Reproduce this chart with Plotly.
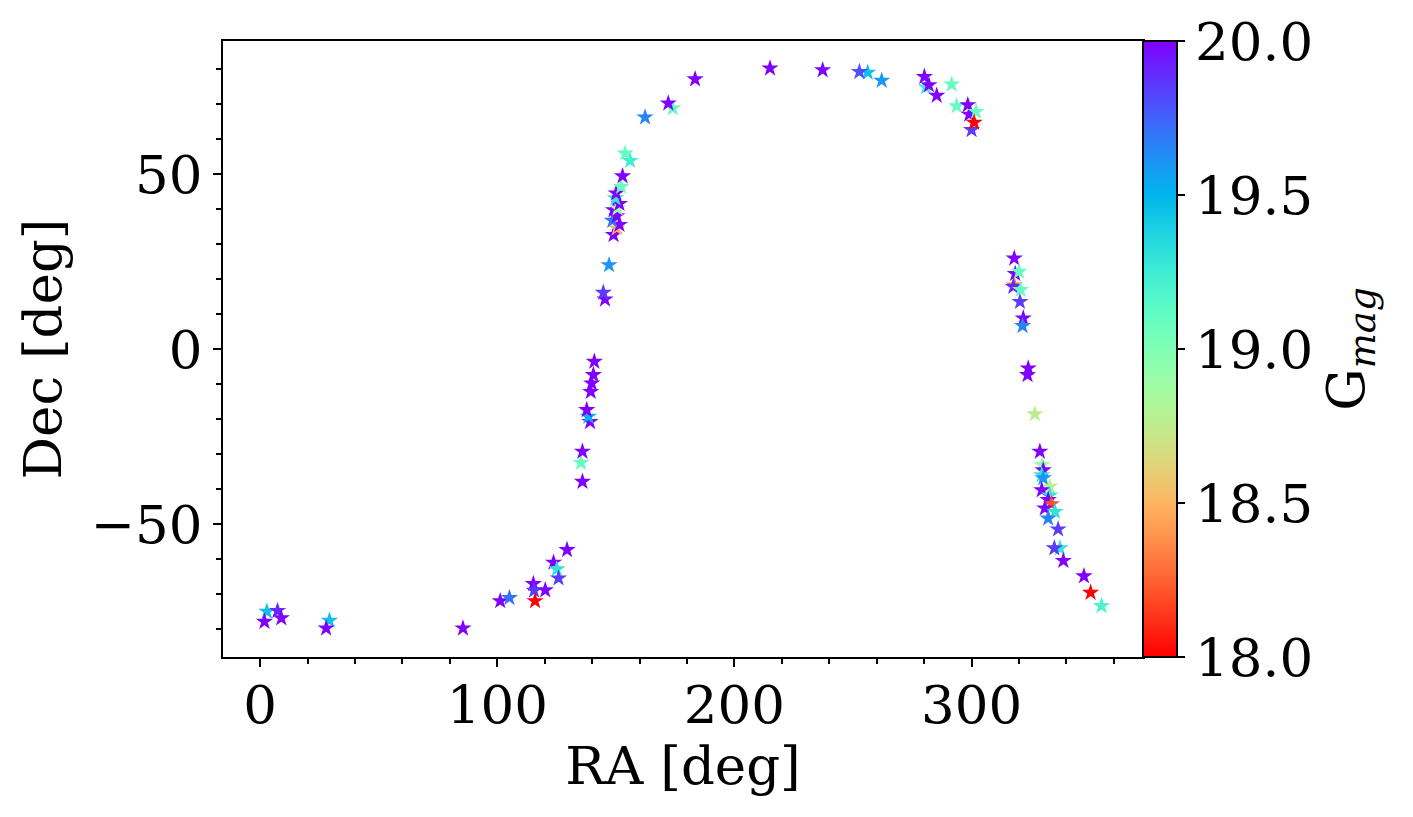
import math
import plotly.graph_objects as go

ra = [2.8, 1.8, 7.3, 8.9, 29.2, 27.8, 85.5, 101.2, 105.1, 115.2, 115.5, 115.9, 120.2,
      123.7, 125.1, 125.8, 129.4,
      135.9, 135.3, 135.9, 139.1, 138.4, 137.7, 139.4, 139.8, 140.5, 140.9,
      145.4, 144.7, 147.1, 149.0, 150.4, 151.5, 148.5, 150.4, 149.0, 150.7, 151.5,
      149.8, 150.1, 152.2, 152.8, 156.0, 153.9,
      162.3, 174.0, 172.1, 183.4, 215.0, 237.2, 256.2, 252.7, 262.1, 280.8, 280.1,
      282.0, 285.3, 291.6, 293.7, 298.4, 299.0, 301.9, 300.0, 301.1,
      318.0, 318.4, 320.0, 318.0, 317.6, 320.7, 320.4, 321.8, 321.5, 323.9, 323.6,
      326.7, 328.8, 329.8, 330.2, 329.6, 330.2, 333.0, 329.6, 333.0, 332.3, 333.7,
      330.9, 335.2, 332.3, 336.5, 337.3, 334.9, 338.7, 347.4, 350.2, 354.8]
dec = [-75.0, -77.9, -74.8, -76.9, -77.6, -79.8, -79.8, -72.0, -71.1, -67.1, -69.0, -72.0, -68.9,
       -61.0, -62.9, -65.5, -57.4,
       -37.9, -32.5, -29.3, -20.8, -19.3, -17.4, -12.2, -9.8, -7.4, -3.6,
       14.2, 16.1, 24.0, 32.6, 34.5, 35.5, 36.7, 38.0, 39.7, 40.2, 41.5,
       43.1, 44.5, 46.4, 49.4, 53.8, 55.9,
       66.2, 68.8, 70.2, 77.1, 80.2, 79.7, 79.0, 79.2, 76.7, 74.8, 77.8,
       75.4, 72.4, 75.6, 69.4, 69.7, 67.0, 67.8, 62.6, 64.7,
       25.9, 21.5, 22.1, 18.2, 17.8, 16.9, 13.5, 8.8, 6.6, -5.5, -7.4,
       -18.6, -29.3, -33.1, -34.6, -36.0, -36.9, -39.3, -40.3, -41.8, -43.1, -44.3,
       -45.5, -46.5, -48.4, -51.5, -56.9, -56.9, -60.5, -64.9, -69.6, -73.4]
gmag = [19.45, 20.0, 19.9, 20.0, 19.45, 20.0, 20.0, 20.0, 19.7, 20.0, 19.85, 18.0, 20.0,
        20.0, 19.3, 19.85, 20.0,
        20.0, 19.1, 20.0, 20.0, 19.5, 20.0, 20.0, 20.0, 20.0, 20.0,
        20.0, 19.85, 19.6, 20.0, 18.5, 20.0, 19.7, 20.0, 20.0, 18.9, 20.0,
        19.3, 20.0, 19.1, 20.0, 19.25, 19.1,
        19.65, 19.1, 20.0, 20.0, 20.0, 20.0, 19.45, 19.8, 19.6, 19.25, 20.0,
        20.0, 20.0, 19.1, 19.1, 20.0, 20.0, 19.1, 19.85, 18.0,
        20.0, 20.0, 19.1, 18.3, 19.9, 19.1, 19.85, 20.0, 19.65, 20.0, 20.0,
        18.75, 20.0, 18.9, 20.0, 19.3, 19.6, 18.8, 20.0, 19.3, 20.0, 18.2,
        20.0, 19.3, 19.65, 19.85, 19.3, 19.85, 20.0, 20.0, 18.0, 19.2]

cb_ticks = [18.0, 18.5, 19.0, 19.5, 20.0]


def rainbow(x):
    r = min(1.0, abs(2 * x - 0.5))
    g = math.sin(math.pi * x)
    b = math.cos(math.pi * x / 2)
    return "rgb(%d,%d,%d)" % (round(r * 255), round(g * 255), round(b * 255))


n = 40
colorscale = [[i / n, rainbow(1 - i / n)] for i in range(n + 1)]

FONT = "DejaVu Serif"
FS = 53

fig = go.Figure()
fig.add_trace(go.Scatter(
    x=ra, y=dec, mode="markers",
    marker=dict(
        symbol="star", size=13, color=gmag, cmin=18, cmax=20,
        colorscale=colorscale, line=dict(width=0),
        colorbar=dict(
            x=1.0, xanchor="left", xpad=0, y=0.5, yanchor="middle",
            len=1, lenmode="fraction", ypad=0, thickness=34,
            outlinewidth=2, outlinecolor="black",
            tickvals=cb_ticks, ticktext=["%.1f" % t for t in cb_ticks],
            ticks="outside", ticklen=7, tickwidth=2, tickcolor="black",
            tickfont=dict(family=FONT, size=FS, color="black"),
            title=dict(text="G<sub><i>mag</i></sub>", side="right",
                       font=dict(family=FONT, size=FS, color="black")),
        ),
    ),
    showlegend=False,
))

fig.update_layout(
    width=1413, height=817,
    margin=dict(l=223, r=270, t=41, b=160),
    plot_bgcolor="white", paper_bgcolor="white",
    font=dict(family=FONT, size=FS, color="black"),
)
fig.update_xaxes(
    range=[-15.7, 372.3], tickvals=[0, 100, 200, 300],
    showgrid=False, zeroline=False, showline=True, linewidth=2, linecolor="black",
    mirror=True, ticks="outside", ticklen=8, tickwidth=2, tickcolor="black",
    ticklabelstandoff=-8,
    minor=dict(dtick=20, tick0=0, ticks="outside", ticklen=5, tickwidth=1.5,
               tickcolor="black", showgrid=False),
    title=dict(text="RA [deg]", font=dict(family=FONT, size=FS), standoff=8),
    tickfont=dict(family=FONT, size=FS),
)
fig.update_yaxes(
    range=[-88, 88], tickvals=[-50, 0, 50],
    showgrid=False, zeroline=False, showline=True, linewidth=2, linecolor="black",
    mirror=True, ticks="outside", ticklen=8, tickwidth=2, tickcolor="black",
    minor=dict(dtick=10, tick0=0, ticks="outside", ticklen=5, tickwidth=1.5,
               tickcolor="black", showgrid=False),
    title=dict(text="Dec [deg]", font=dict(family=FONT, size=FS), standoff=12),
    tickfont=dict(family=FONT, size=FS),
)

fig.write_html("out.html")
